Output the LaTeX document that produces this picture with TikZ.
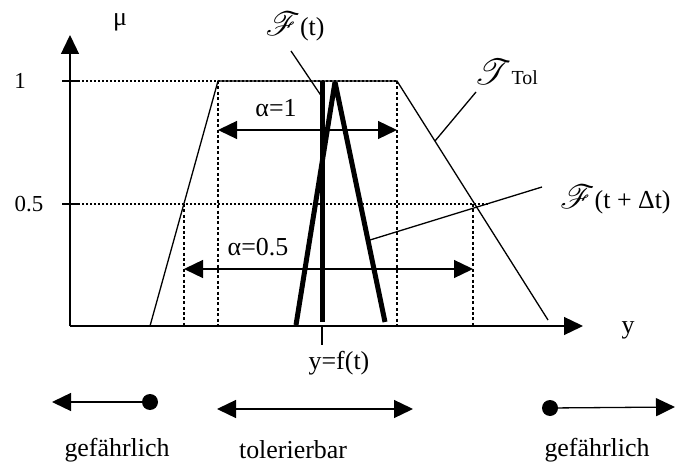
\documentclass[tikz,border=0pt]{standalone}
\usepackage{fontspec}
\setmainfont{Liberation Serif}
\usepackage{mathrsfs}
\usetikzlibrary{arrows.meta}

\begin{document}
\begin{tikzpicture}[x=1bp, y=-1bp,
    lbl/.style={font=\fontsize{26}{30}\selectfont, inner sep=0pt},
    ticklbl/.style={font=\fontsize{23}{26}\selectfont, inner sep=0pt},
    thinline/.style={line width=1.3bp},
    guide/.style={line width=1.2bp, dash pattern=on 2bp off 2bp},
    cutline/.style={line width=2.6bp, dash pattern=on 3bp off 2.4bp},
    fuzzy/.style={line width=5bp, line join=bevel},
    tip/.style={-{Triangle[length=19bp, width=18bp]}},
    twotips/.style={{Triangle[length=19bp, width=18bp]}-{Triangle[length=19bp, width=18bp]}}]
    \useasboundingbox (0,0) rectangle (675,464);

    % Axes
    \coordinate (o) at (70,326);
    \coordinate (ytop) at (70,35);
    \coordinate (xend) at (583,326);
    \draw[thinline, tip] (o) -- (ytop);
    \draw[thinline, tip] (o) -- (xend);
    \node[lbl] (mu) at (120,22) {μ};
    \node[lbl] (ylab) at (628,330) {y};

    % Levels 1 and 0.5
    \coordinate (one) at (70,81);
    \coordinate (half) at (70,204);
    \node[ticklbl] (onelab) at (20,81) {1};
    \node[ticklbl] (halflab) at (29,204) {0.5};
    \draw[thinline] ([xshift=-8bp]one) -- ([xshift=8bp]one);
    \draw[thinline] ([xshift=-8bp]half) -- ([xshift=8bp]half);

    % Tolerance trapezoid
    \coordinate (tl) at (150,326);
    \coordinate (tA) at (218,81);
    \coordinate (tB) at (397,81);
    \coordinate (tr) at (548,320);
    \draw[thinline] (tl) -- (tA) -- (tB) -- (tr);
    \draw[guide] ([xshift=8bp]one) -- (tB);
    \draw[guide] ([xshift=8bp]half) -- (490,204);

    % Alpha cuts
    \coordinate (hA) at (184,204);
    \coordinate (hB) at (473,204);
    \draw[cutline] (tA) -- (tA |- o);
    \draw[cutline] (tB) -- (tB |- o);
    \draw[cutline] (hA) -- (hA |- o);
    \draw[cutline] (hB) -- (hB |- o);
    \draw[thinline, twotips] (218,130) -- (397,130);
    \draw[thinline, twotips] (184,269) -- (473,269);
    \node[lbl] (a1) at (276,108) {α=1};
    \node[lbl] (a05) at (258,247) {α=0.5};

    % Fuzzy values
    \coordinate (ftop) at (322,81);
    \coordinate (fbot) at (322,322);
    \draw[fuzzy] (ftop) -- (fbot);
    \draw[thinline] (322,326) -- (322,345);
    \node[lbl] (fval) at (339,363) {y=f(t)};
    \coordinate (dl) at (296,325);
    \coordinate (dtop) at (335,82);
    \coordinate (dr) at (385,322);
    \draw[fuzzy] (dl) -- (dtop) -- (dr);

    % Labels with leaders
    \node[lbl] (flab) at (295,27) {\scalebox{1.35}{$\mathscr{F}$}(t)};
    \node[lbl, anchor=west] (fdlab) at (560,200) {\scalebox{1.35}{$\mathscr{F}$}(t + Δt)};
    \node[lbl] (tollab) at (506,72) {\scalebox{1.45}{$\mathscr{T}$}\fontsize{20}{24}\selectfont Tol};
    \coordinate (fl1) at (291,51);
    \coordinate (fl2) at (322,97);
    \coordinate (tl1) at (476,92);
    \coordinate (tl2) at (435,141);
    \coordinate (dl1) at (542,187);
    \coordinate (dl2) at (370,240);
    \draw[thinline] (fl1) -- (fl2);
    \draw[thinline] (tl1) -- (tl2);
    \draw[thinline] (dl1) -- (dl2);

    % Regions below
    \coordinate (lt) at (52,402);
    \coordinate (ld) at (150,402);
    \coordinate (mA) at (217,409);
    \coordinate (mB) at (413,409);
    \coordinate (rd) at (550,408);
    \coordinate (rt) at (675,407);
    \draw[thinline, tip] (ld) -- (lt);
    \fill (ld) circle (8bp);
    \draw[thinline, twotips] (mA) -- (mB);
    \draw[thinline, tip] (rd) -- (rt);
    \fill (rd) circle (8bp);
    \node[lbl] (gl) at (117,450) {gefährlich};
    \node[lbl] (tb) at (293,450) {tolerierbar};
    \node[lbl] (gr) at (597,450) {gefährlich};
\end{tikzpicture}
\end{document}
